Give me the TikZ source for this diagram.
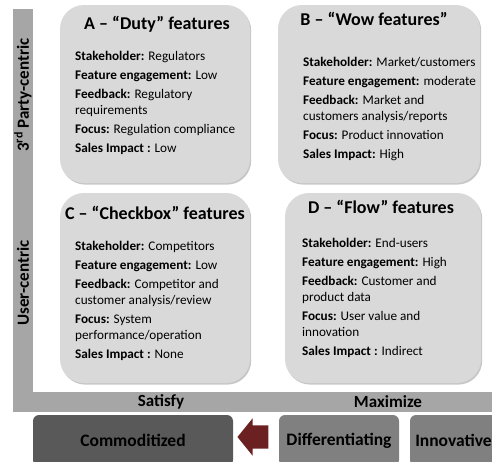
\documentclass[tikz,border=0pt]{standalone}
\usepackage{fontspec}
\setmainfont{Carlito}
\usetikzlibrary{shadows,shapes.arrows}

\definecolor{quadgray}{HTML}{D9D9D9}
\definecolor{axisgray}{HTML}{A6A6A6}
\definecolor{commgray}{HTML}{595959}
\definecolor{tiergray}{HTML}{808080}
\definecolor{shiftred}{HTML}{6B2121}

\begin{document}
\begin{tikzpicture}[x=1pt,y=-1pt,
    quad/.style={rectangle,rounded corners=24pt,fill=quadgray,inner sep=0pt,
      drop shadow={shadow xshift=1.2pt,shadow yshift=-1.6pt,fill=black,opacity=0.22}},
    quadtitle/.style={inner sep=0pt,font=\fontsize{18}{21}\selectfont\bfseries},
    quadtext/.style={anchor=north west,inner sep=0pt,align=left,
      font=\fontsize{13.2}{16}\selectfont},
    axislabel/.style={inner sep=0pt,font=\fontsize{17}{19}\selectfont\bfseries},
    tier/.style={rectangle,rounded corners=6pt,inner sep=0pt,minimum height=51pt,
      font=\fontsize{17.5}{20}\selectfont\bfseries}]
    \useasboundingbox (0,0) rectangle (492,461);
    \clip (0,0) rectangle (492,461);

    % axes
    \fill[axisgray] (13,9) rectangle (33,412);
    \fill[axisgray] (13,392) rectangle (492,412);
    \node[axislabel,rotate=90] (thirdparty) at (23,95) {3\textsuperscript{rd} Party-centric};
    \node[axislabel,rotate=90] (usercentric) at (23,283) {User-centric};
    \node[axislabel] (satisfy) at (161,402) {Satisfy};
    \node[axislabel] (maximize) at (388,402) {Maximize};

    % the four quadrants
    \node[quad,minimum width=190pt,minimum height=178pt] (duty) at (155,94) {};
    \node[quad,minimum width=202pt,minimum height=178pt] (wow) at (379,94) {};
    \node[quad,minimum width=190pt,minimum height=190pt] (checkbox) at (155,288) {};
    \node[quad,minimum width=196pt,minimum height=190pt] (flow) at (383,288) {};

    \node[quadtitle] (dutytitle) at (157,24) {A – “Duty” features};
    \node[quadtitle] (wowtitle) at (374,19) {B – “Wow features”};
    \node[quadtitle] (checkboxtitle) at (155,213) {C – “Checkbox” features};
    \node[quadtitle] (flowtitle) at (381,207) {D – “Flow” features};

    \node[quadtext] (dutytext) at (75,51) {%
      \textbf{Stakeholder:} Regulators\\[3pt]
      \textbf{Feature engagement:} Low\\[3pt]
      \textbf{Feedback:} Regulatory\\
      requirements\\[3pt]
      \textbf{Focus:} Regulation compliance\\[3pt]
      \textbf{Sales Impact :} Low};
    \node[quadtext] (wowtext) at (303,57) {%
      \textbf{Stakeholder:} Market/customers\\[3pt]
      \textbf{Feature engagement:} moderate\\[3pt]
      \textbf{Feedback:} Market and\\
      customers analysis/reports\\[3pt]
      \textbf{Focus:} Product innovation\\[3pt]
      \textbf{Sales Impact:} High};
    \node[quadtext] (checkboxtext) at (75,241) {%
      \textbf{Stakeholder:} Competitors\\[3pt]
      \textbf{Feature engagement:} Low\\[3pt]
      \textbf{Feedback:} Competitor and\\
      customer analysis/review\\[3pt]
      \textbf{Focus:} System\\
      performance/operation\\[3pt]
      \textbf{Sales Impact :} None};
    \node[quadtext] (flowtext) at (302,238) {%
      \textbf{Stakeholder:} End-users\\[3pt]
      \textbf{Feature engagement:} High\\[3pt]
      \textbf{Feedback:} Customer and\\
      product data\\[3pt]
      \textbf{Focus:} User value and\\
      innovation\\[3pt]
      \textbf{Sales Impact :} Indirect};

    % feature tiers along the bottom
    \node[tier,fill=commgray,minimum width=200pt] (comm) at (133,440.5) {Commoditized};
    \node[tier,fill=tiergray,minimum width=120pt] (diff) at (339,440.5) {Differentiating};
    \node[tier,fill=tiergray,minimum width=87pt] (innov) at (453.5,440.5) {Innovative};

    \node[single arrow,shape border rotate=180,fill=shiftred,inner xsep=0pt,inner ysep=11.5pt,
      minimum height=31pt,single arrow head extend=7pt,
      single arrow tip angle=102,anchor=tip] (shift) at ([xshift=4pt,yshift=3.5pt]comm.east) {};
\end{tikzpicture}
\end{document}
